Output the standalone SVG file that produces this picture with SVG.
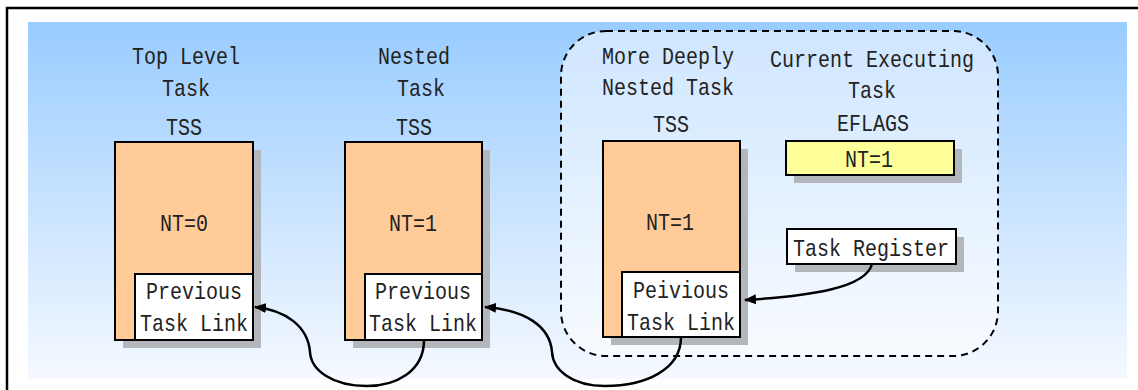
<svg xmlns="http://www.w3.org/2000/svg" width="1138" height="390" viewBox="0 0 1138 390">
<defs>
<linearGradient id="bg" x1="0" y1="0" x2="0" y2="1">
<stop offset="0" stop-color="#99CCFF"/>
<stop offset="1" stop-color="#F5F9FF"/>
</linearGradient>
<linearGradient id="inner" x1="0" y1="0" x2="0" y2="1">
<stop offset="0" stop-color="#CFE6FF"/>
<stop offset="1" stop-color="#F8FBFF"/>
</linearGradient>
<marker id="arrow" viewBox="0 0 12 10" refX="11" refY="5" markerWidth="12" markerHeight="10" markerUnits="userSpaceOnUse" orient="auto">
<path d="M0,0 L12,5 L0,10 Z" fill="#000"/>
</marker>
</defs>
<style>
text{font-family:"Liberation Mono","DejaVu Sans Mono",monospace;font-size:20px;fill:#222;text-anchor:middle;transform-box:fill-box;transform-origin:center;transform:scaleY(1.2)}
.tss{fill:#FFCC99;stroke:#000;stroke-width:2}
.link{fill:#FFFFFF;stroke:#000;stroke-width:2}
.shadow{fill:#B3B7BC}
.flags{fill:#FFFF99;stroke:#000;stroke-width:2}
.conn{fill:none;stroke:#000;stroke-width:2.5}
</style>
<rect x="7" y="8" width="1140" height="400" fill="#FFFFFF" stroke="#000" stroke-width="2.5"/>
<rect x="28" y="22" width="1099" height="357" fill="url(#bg)"/>
<g id="current-group">
<rect x="561" y="31" width="437" height="325" rx="45" ry="45" fill="url(#inner)" stroke="#000" stroke-width="2" stroke-dasharray="7,5"/>
</g>
<g id="top-level-task">
<text x="186" y="63">Top Level</text>
<text x="186" y="95">Task</text>
<text x="184" y="134">TSS</text>
<rect class="shadow" x="123" y="150" width="138" height="198"/>
<rect class="tss" x="115" y="142" width="138" height="198"/>
<text x="184" y="230">NT=0</text>
<rect class="link" x="135" y="274" width="118" height="66"/>
<text x="194" y="298">Previous</text>
<text x="194" y="330">Task Link</text>
</g>
<g id="nested-task">
<text x="414" y="63">Nested</text>
<text x="421" y="95">Task</text>
<text x="414" y="134">TSS</text>
<rect class="shadow" x="353" y="150" width="137" height="198"/>
<rect class="tss" x="345" y="142" width="137" height="198"/>
<text x="413" y="230">NT=1</text>
<rect class="link" x="365" y="274" width="117" height="66"/>
<text x="423" y="298">Previous</text>
<text x="423" y="330">Task Link</text>
</g>
<g id="more-deeply-nested-task">
<text x="668" y="63">More Deeply</text>
<text x="668" y="94">Nested Task</text>
<text x="671" y="131">TSS</text>
<rect class="shadow" x="611" y="149" width="137" height="196"/>
<rect class="tss" x="603" y="141" width="137" height="196"/>
<text x="670" y="229">NT=1</text>
<rect class="link" x="622" y="272" width="118" height="65"/>
<text x="681" y="297">Peivious</text>
<text x="681" y="329">Task Link</text>
</g>
<g id="eflags">
<text x="872" y="66">Current Executing</text>
<text x="872" y="97">Task</text>
<text x="873" y="130">EFLAGS</text>
<rect class="shadow" x="794" y="149" width="168" height="34"/>
<rect class="flags" x="786" y="141" width="168" height="34"/>
<text x="869" y="166">NT=1</text>
</g>
<g id="task-register">
<rect class="shadow" x="795" y="237" width="169" height="35"/>
<rect class="link" x="787" y="229" width="169" height="35"/>
<text x="871" y="255">Task Register</text>
</g>
<g id="connectors">
<path class="conn" d="M872,264 C866,288 810,296 745,300" marker-end="url(#arrow)"/>
<path class="conn" d="M681,337 C681,370 645,386 605,386 C572,386 553,370 552,352 C550,326 525,310 485,307" marker-end="url(#arrow)"/>
<path class="conn" d="M424,340 C424,372 395,386 367,386 C332,386 311,370 310,352 C308,326 285,310 255,307" marker-end="url(#arrow)"/>
</g>
</svg>
